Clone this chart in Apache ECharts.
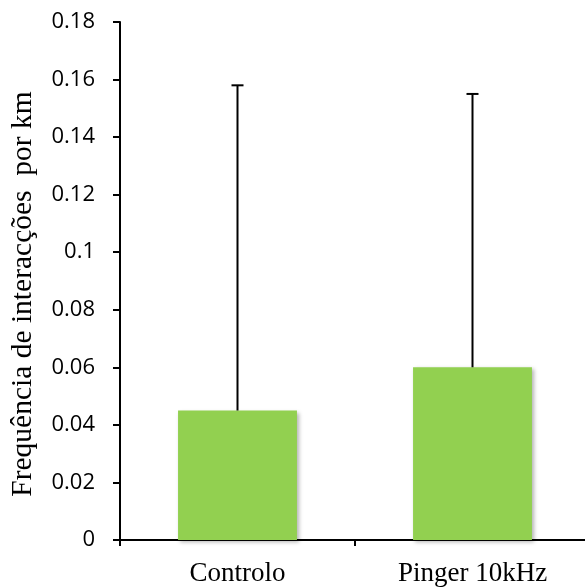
<!DOCTYPE html>
<html>
<head>
<meta charset="utf-8">
<script src="https://cdn.jsdelivr.net/npm/echarts@6/dist/echarts.min.js"></script>
<style>
  html, body { margin: 0; padding: 0; background: #fff; overflow: hidden; }
  #chart { width: 590px; height: 587px; }
</style>
</head>
<body>
<div id="chart"></div>
<script>
// dados do grafico
var categories = ['Controlo', 'Pinger 10kHz'];
var means = [0.045, 0.06];
var errTop = [0.158, 0.155];
var yMin = 0, yMax = 0.18, yStep = 0.02;

window.onload = function() {
  drawChart();
}

function drawChart() {
  var chart = echarts.init(document.getElementById('chart'));
  var errData = [];
  for (var i = 0; i < categories.length; i++) {
    errData.push([i, means[i], errTop[i]]);
  }
  var option = {
    animation: false,
    grid: {left: 117, top: 22, right: 0, bottom: 46, containLabel: false},
    xAxis: {
      type: 'category',
      data: categories,
      axisLine: {lineStyle: {color: '#000', width: 2}},
      axisTick: {show: true, length: 6, lineStyle: {color: '#000', width: 2}},
      axisLabel: {
        margin: 20,
        color: '#000',
        fontFamily: 'Liberation Serif',
        fontSize: 27
      }
    },
    yAxis: {
      type: 'value',
      min: yMin,
      max: yMax,
      interval: yStep,
      name: 'Frequência de interacções  por km',
      nameLocation: 'middle',
      nameGap: 82,
      nameTextStyle: {
        color: '#000',
        fontFamily: 'Liberation Serif',
        fontSize: 29.5,
        padding: [0, 26, 0, 0]
      },
      splitLine: {show: false},
      axisLine: {show: true, lineStyle: {color: '#000', width: 2}},
      axisTick: {show: true, length: 7, lineStyle: {color: '#000', width: 2}},
      axisLabel: {
        margin: 25,
        color: '#000',
        fontFamily: 'Open Sans',
        fontSize: 22
      }
    },
    series: [{
      type: 'bar',
      data: means,
      barWidth: '50.6%',
      itemStyle: {
        color: '#92D050',
        shadowBlur: 4,
        shadowColor: 'rgba(0,0,0,0.3)',
        shadowOffsetX: 2,
        shadowOffsetY: 2
      }
    }, {
      type: 'custom',
      data: errData,
      z: 5,
      renderItem: function(params, api) {
        var x = api.value(0);
        var p0 = api.coord([x, api.value(1)]);
        var p1 = api.coord([x, api.value(2)]);
        var half = 6;
        var style = {stroke: '#000', lineWidth: 2};
        return {
          type: 'group',
          children: [{
            type: 'line',
            shape: {x1: p0[0], y1: p0[1], x2: p1[0], y2: p1[1]},
            style: style
          }, {
            type: 'line',
            shape: {x1: p1[0] - half, y1: p1[1], x2: p1[0] + half, y2: p1[1]},
            style: style
          }]
        };
      }
    }]
  };
  chart.setOption(option);
}
</script>
</body>
</html>
